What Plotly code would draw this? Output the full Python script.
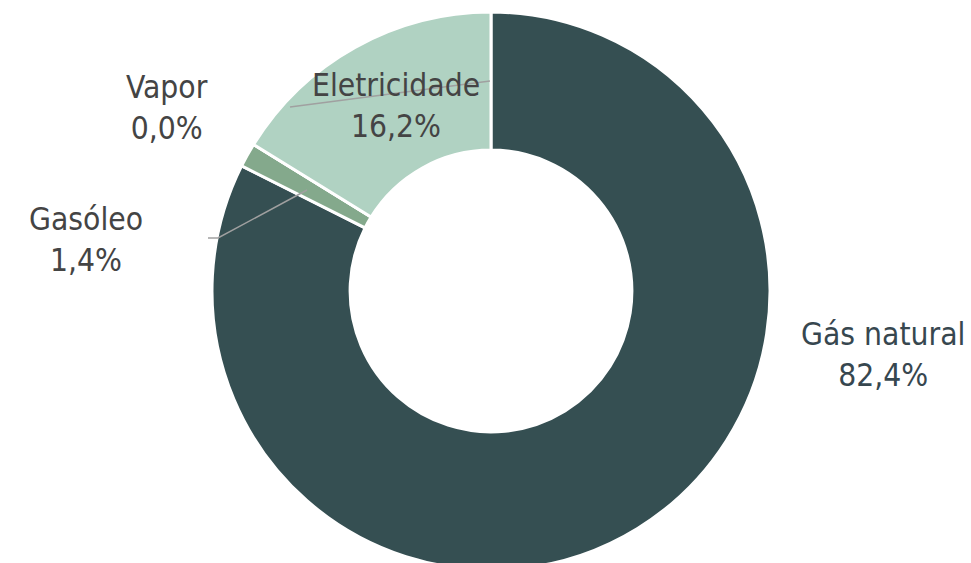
import plotly.graph_objects as go

labels = ["Gás natural", "Gasóleo", "Vapor", "Eletricidade"]
values = [82.4, 1.4, 0.0, 16.2]
colors = ["#354f52", "#84a98c", "#52796f", "#b0d2c2"]

W, H = 971, 600
FONT = "'DejaVu Sans Condensed', Roboto, sans-serif"

def px(x):
    return x / W

def py(y):
    return 1 - y / H

fig = go.Figure(
    go.Pie(
        labels=labels,
        values=values,
        hole=0.505,
        sort=False,
        direction="clockwise",
        rotation=0,
        marker=dict(colors=colors, line=dict(color="white", width=3)),
        textinfo="none",
        hoverinfo="label+percent",
        showlegend=False,
        domain=dict(x=[px(212), px(770)], y=[py(570), py(12)]),
    )
)

label_pos = {
    "Gás natural": (883, 354, "#37474f"),
    "Gasóleo": (86, 239, "#444444"),
    "Vapor": (167, 107, "#444444"),
    "Eletricidade": (396, 106, "#444444"),
}
for lab, val in zip(labels, values):
    x, y, c = label_pos[lab]
    txt = f"{lab}<br>{val:.1f}%".replace(".", ",")
    fig.add_annotation(
        x=px(x), y=py(y), xref="paper", yref="paper",
        text=txt, showarrow=False, align="center",
        xanchor="center", yanchor="middle",
        font=dict(family=FONT, size=31.5, color=c),
    )

line_style = dict(color="#a0a0a0", width=1.5)
fig.add_shape(type="line", xref="paper", yref="paper",
              x0=px(290), y0=py(107), x1=px(490), y1=py(81), line=line_style)
fig.add_shape(type="path", xref="paper", yref="paper",
              path=f"M {px(208)} {py(238)} L {px(218)} {py(238)} L {px(307)} {py(190)}",
              line=line_style)

fig.update_layout(
    width=W, height=H,
    margin=dict(l=0, r=0, t=0, b=0),
    paper_bgcolor="white",
    plot_bgcolor="white",
)

fig.write_html(
    "out.html",
    config={"displayModeBar": False},
    post_script="document.body.style.margin='0';document.body.style.overflow='hidden';",
)
